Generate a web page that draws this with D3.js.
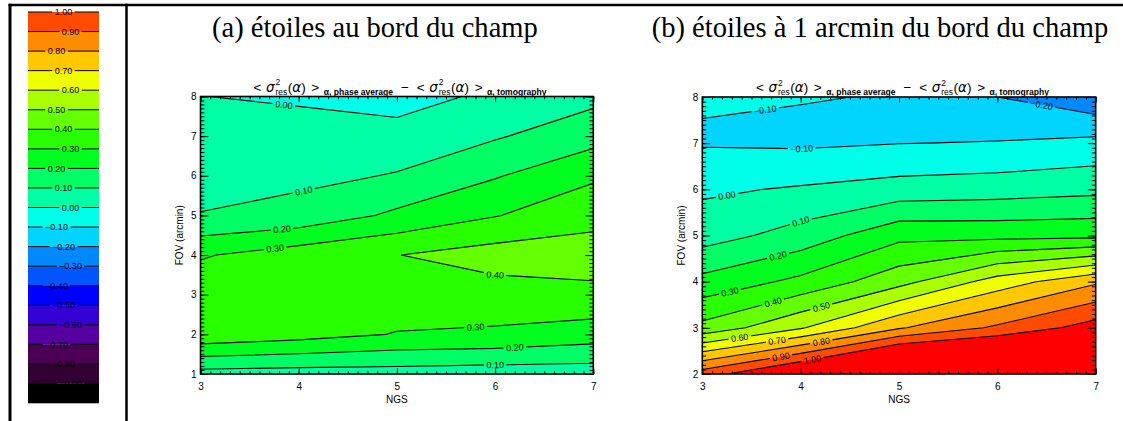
<!DOCTYPE html>
<html><head><meta charset="utf-8">
<script src="https://cdn.jsdelivr.net/npm/d3@7/dist/d3.min.js"></script>
<style>html,body{margin:0;padding:0;background:#fff;} svg{display:block;}</style>
</head><body>
<svg id="chart" width="1123" height="421" xmlns="http://www.w3.org/2000/svg"></svg>
<script>
// ---------------- data ----------------
const ngs = [3, 4, 5, 6, 7];
const fovA = [1, 2, 3, 4, 5, 6, 7, 8];
const fovB = [2, 3, 4, 5, 6, 7, 8];
// rows: FOV ascending, columns: NGS 3..7
const valuesA = [
  [0.062, 0.054, 0.055, 0.045, 0.045],
  [0.375, 0.340, 0.295, 0.285, 0.249],
  [0.370, 0.370, 0.360, 0.356, 0.380],
  [0.290, 0.353, 0.398, 0.444, 0.437],
  [0.103, 0.131, 0.220, 0.295, 0.374],
  [0.070, 0.079, 0.105, 0.192, 0.283],
  [0.035, 0.030, 0.055, 0.090, 0.163],
  [0.001, -0.010, -0.062, 0.032, 0.073]
];
const valuesB = [
  [0.950, 1.150, 1.390, 1.400, 1.300],
  [0.430, 0.590, 0.790, 0.918, 1.046],
  [0.230, 0.325, 0.465, 0.645, 0.785],
  [0.056, 0.140, 0.272, 0.270, 0.274],
  [-0.016, 0.010, 0.040, 0.053, 0.074],
  [-0.108, -0.115, -0.102, -0.095, -0.071],
  [-0.093, -0.097, -0.103, -0.200, -0.278]
];
const levels = [-1.0, -0.9, -0.8, -0.7, -0.6, -0.5, -0.4, -0.3, -0.2, -0.1, 0.0,
                 0.1, 0.2, 0.3, 0.4, 0.5, 0.6, 0.7, 0.8, 0.9, 1.0];
const bandColors = ["#000000", "#330033", "#4b0055", "#5500a0", "#3500d5", "#0000ff",
  "#0055ff", "#0088ff", "#00d4ff", "#00ffe8", "#00ffa5", "#00ff64", "#00ff1e",
  "#28ff00", "#64ff00", "#aaff00", "#f0ff00", "#ffc800", "#ff8c00", "#ff4b00", "#ff0000"];
const xTicks = [3, 4, 5, 6, 7];
const yTicksA = [1, 2, 3, 4, 5, 6, 7, 8];
const yTicksB = [2, 3, 4, 5, 6, 7, 8];
// contour labels: [level, NGS position, approximate FOV]
const labelsA = [[0.00, 3.85, 7.79], [0.10, 4.05, 5.64], [0.20, 3.83, 4.73], [0.30, 3.76, 4.17],
  [0.40, 6.0, 3.62], [0.30, 5.8, 2.18], [0.20, 6.2, 1.69], [0.10, 6.0, 1.23]];
const labelsB = [[-0.10, 3.64, 7.76], [-0.20, 6.45, 7.85], [-0.10, 4.01, 6.98], [0.00, 3.25, 5.86],
  [0.10, 4.0, 5.3], [0.20, 3.77, 4.63], [0.30, 3.28, 3.53], [0.40, 3.72, 3.29], [0.50, 4.21, 3.2],
  [0.60, 3.38, 2.77], [0.70, 3.76, 2.72], [0.80, 4.21, 2.66], [0.90, 3.80, 2.36], [1.00, 4.12, 2.32]];
const titleA = "(a) étoiles au bord du champ";
const titleB = "(b) étoiles à 1 arcmin du bord du champ";
const xLabel = "NGS";
const yLabel = "FOV (arcmin)";

// ---------------- drawing ----------------
const W = 1123, H = 421;
const FF = "'Liberation Sans', Arial, Helvetica, sans-serif";
const svg = d3.select("#chart");
const defs = svg.append("defs");

const bandColor = t => bandColors[Math.round(t * 10) + 10];
const fmtLevel = v => (v < -1e-9 ? "\u2212" : "") + Math.abs(v).toFixed(2);

// table borders
svg.append("line").attr("x1", 8.5).attr("x2", W).attr("y1", 5).attr("y2", 5).attr("stroke", "#000").attr("stroke-width", 2.5);
svg.append("line").attr("x1", 10).attr("x2", 10).attr("y1", 3.8).attr("y2", H).attr("stroke", "#000").attr("stroke-width", 3);
svg.append("line").attr("x1", 126.5).attr("x2", 126.5).attr("y1", 3.8).attr("y2", H).attr("stroke", "#000").attr("stroke-width", 2.5);

// top titles
function bigTitle(txt, cx, size) {
  return svg.append("text").attr("x", cx).attr("y", 36.5).attr("text-anchor", "middle")
    .attr("font-family", "'Liberation Serif', 'Times New Roman', serif").attr("font-size", size).text(txt);
}
const tA = bigTitle(titleA, 374.9, 28.5);
const fitSize = 28.5 * 326 / tA.node().getComputedTextLength();
tA.attr("font-size", fitSize);
bigTitle(titleB, 880, fitSize);

// colour bar
const barScale = d3.scaleLinear().domain([levels[0], levels[levels.length - 1]]).range([403, 12]);
const barX0 = 28, barX1 = 99, barC = (barX0 + barX1) / 2;
const bar = svg.append("g");
for (let i = 0; i < levels.length - 1; i++) {
  bar.append("rect").attr("x", barX0).attr("width", barX1 - barX0)
    .attr("y", barScale(levels[i + 1])).attr("height", barScale(levels[i]) - barScale(levels[i + 1]) + 0.3)
    .attr("fill", bandColors[i]);
}
const barLevels = levels.slice(1).reverse();
barLevels.forEach((v, k) => {
  const cx = barC + [0, 7, -7][k % 3];
  const yy = barScale(v);
  const t = bar.append("text").attr("x", cx).attr("y", yy).attr("dy", "0.35em").attr("text-anchor", "middle")
    .attr("font-family", FF).attr("font-size", 9).text(fmtLevel(v));
  const w = t.node().getComputedTextLength();
  bar.append("line").attr("x1", barX0).attr("x2", cx - w / 2 - 2.5).attr("y1", yy).attr("y2", yy).attr("stroke", "#000").attr("stroke-width", 1);
  bar.append("line").attr("x1", cx + w / 2 + 2.5).attr("x2", barX1).attr("y1", yy).attr("y2", yy).attr("stroke", "#000").attr("stroke-width", 1);
});

// plot title with sigma notation
function sigmaTitle(cx, base, targetW) {
  const g = svg.append("g");
  let xpos = 0;
  function put(t, size, dy, opts = {}) {
    const el = g.append("text").attr("x", xpos).attr("y", dy).attr("font-size", size)
      .attr("font-family", opts.ff || FF).text(t);
    if (opts.it) el.attr("font-style", "italic");
    if (opts.b) el.attr("font-weight", "bold");
    return el.node().getComputedTextLength();
  }
  const GR = "'DejaVu Sans', sans-serif";
  function half(sub) {
    xpos += put("<", 12, 0); xpos += 4;
    xpos += put("\u03c3", 12, 0, { it: true, ff: GR }); xpos += 0.8;
    const w1 = put("2", 7.5, -5.5), w2 = put("res", 7.5, 2.8);
    xpos += Math.max(w1, w2) + 0.5;
    xpos += put("(", 12, 0); xpos += put("\u03b1", 12, 0, { it: true, ff: GR }); xpos += put(")", 12, 0); xpos += 5;
    xpos += put(">", 12, 0); xpos += 4;
    xpos += put(sub, 7.6, 2.8, { b: true });
  }
  half("\u03b1, phase average"); xpos += 7; xpos += put("\u2212", 12, 0); xpos += 7; half("\u03b1, tomography");
  const k = targetW / xpos;
  g.attr("transform", `translate(${cx - xpos * k / 2},${base}) scale(${k})`);
}

function panel(cfg) {
  const { id, values, fov, yTicks, labels, x0, x1, y0, y1, yLabelX } = cfg;
  const nx = ngs.length, ny = fov.length;
  const x = d3.scaleLinear().domain([ngs[0], ngs[nx - 1]]).range([x0, x1]);
  const y = d3.scaleLinear().domain([fov[0], fov[ny - 1]]).range([y1, y0]);
  const stepX = ngs[1] - ngs[0], stepY = fov[1] - fov[0];
  const px = c => x(ngs[0] + (c - 0.5) * stepX);
  const py = c => y(fov[0] + (c - 0.5) * stepY);
  const flat = values.flat();
  const conts = d3.contours().size([nx, ny]).thresholds(levels)(flat);
  const pathOf = geom => geom.coordinates.map(poly => poly.map(ring =>
    "M" + ring.map(p => px(p[0]).toFixed(2) + "," + py(p[1]).toFixed(2)).join("L") + "Z").join("")).join("");

  const clipId = "clip" + id, maskId = "mask" + id;
  defs.append("clipPath").attr("id", clipId).append("rect")
    .attr("x", x0).attr("y", y0).attr("width", x1 - x0).attr("height", y1 - y0);
  const mask = defs.append("mask").attr("id", maskId).attr("maskUnits", "userSpaceOnUse")
    .attr("x", 0).attr("y", 0).attr("width", W).attr("height", H);
  mask.append("rect").attr("x", 0).attr("y", 0).attr("width", W).attr("height", H).attr("fill", "#fff");

  const g = svg.append("g");
  const fills = g.append("g").attr("clip-path", `url(#${clipId})`);
  conts.forEach(c => {
    if (c.coordinates.length) fills.append("path").attr("d", pathOf(c)).attr("fill", bandColor(c.value));
  });
  const [mn, mx] = d3.extent(flat);
  const lines = g.append("g").attr("clip-path", `url(#${clipId})`).append("g").attr("mask", `url(#${maskId})`);
  conts.filter(c => c.value > mn && c.value < mx).forEach(c => {
    lines.append("path").attr("d", pathOf(c)).attr("fill", "none").attr("stroke", "#000").attr("stroke-width", 1.1);
  });

  // contour labels
  const labG = g.append("g");
  labels.forEach(([lev, nv, fh]) => {
    const cont = conts.find(c => Math.abs(c.value - lev) < 1e-6);
    if (!cont) return;
    const X = x(nv), Yh = y(fh);
    let best = null;
    cont.coordinates.forEach(poly => poly.forEach(ring => {
      for (let i = 0; i < ring.length - 1; i++) {
        const ax = px(ring[i][0]), ay = py(ring[i][1]), bx = px(ring[i + 1][0]), by = py(ring[i + 1][1]);
        if (ax === bx || (ax - X) * (bx - X) > 0) continue;
        const t = (X - ax) / (bx - ax), Y = ay + t * (by - ay);
        if (Y < y0 || Y > y1) continue;
        const d = Math.abs(Y - Yh);
        if (!best || d < best.d) best = { d, Y, ang: Math.atan2(by - ay, bx - ax) * 180 / Math.PI };
      }
    }));
    if (!best) return;
    let ang = best.ang;
    if (ang > 90) ang -= 180;
    if (ang < -90) ang += 180;
    const tr = `translate(${X},${best.Y}) rotate(${ang})`;
    const t = labG.append("text").attr("transform", tr).attr("text-anchor", "middle").attr("dy", "0.36em")
      .attr("font-family", FF).attr("font-size", 9).text(fmtLevel(lev));
    const w = t.node().getComputedTextLength();
    mask.append("rect").attr("transform", tr).attr("x", -w / 2 - 2.5).attr("y", -4.5)
      .attr("width", w + 5).attr("height", 9).attr("fill", "#000");
  });

  // axes
  const minorX = d3.range(Math.round(ngs[0] * 10), Math.round(ngs[nx - 1] * 10) + 1).map(v => v / 10);
  const minorY = d3.range(Math.round(fov[0] * 10), Math.round(fov[ny - 1] * 10) + 1).map(v => v / 10);
  const ax = g.append("g").attr("font-family", FF);
  const noDomain = s => s.select(".domain").remove();
  const styleTicks = s => { s.attr("font-family", FF).attr("font-size", 10); s.selectAll("line").attr("stroke-width", 1); };
  // bottom
  ax.append("g").attr("transform", `translate(0,${y1})`)
    .call(d3.axisBottom(x).tickValues(minorX).tickSize(-2.8).tickSizeOuter(0).tickFormat(""))
    .call(noDomain).call(styleTicks);
  ax.append("g").attr("transform", `translate(0,${y1})`)
    .call(d3.axisBottom(x).tickValues(xTicks).tickSize(-5.6).tickSizeOuter(0).tickPadding(8.5).tickFormat(d3.format("d")))
    .call(noDomain).call(styleTicks);
  // top
  ax.append("g").attr("transform", `translate(0,${y0})`)
    .call(d3.axisTop(x).tickValues(minorX).tickSize(-2.8).tickSizeOuter(0).tickFormat(""))
    .call(noDomain).call(styleTicks);
  ax.append("g").attr("transform", `translate(0,${y0})`)
    .call(d3.axisTop(x).tickValues(xTicks).tickSize(-5.6).tickSizeOuter(0).tickFormat(""))
    .call(noDomain).call(styleTicks);
  // left
  ax.append("g").attr("transform", `translate(${x0},0)`)
    .call(d3.axisLeft(y).tickValues(minorY).tickSize(-3.9).tickSizeOuter(0).tickFormat(""))
    .call(noDomain).call(styleTicks);
  ax.append("g").attr("transform", `translate(${x0},0)`)
    .call(d3.axisLeft(y).tickValues(yTicks).tickSize(-7.9).tickSizeOuter(0).tickPadding(4).tickFormat(d3.format("d")))
    .call(noDomain).call(styleTicks);
  // right
  ax.append("g").attr("transform", `translate(${x1},0)`)
    .call(d3.axisRight(y).tickValues(minorY).tickSize(-3.9).tickSizeOuter(0).tickFormat(""))
    .call(noDomain).call(styleTicks);
  ax.append("g").attr("transform", `translate(${x1},0)`)
    .call(d3.axisRight(y).tickValues(yTicks).tickSize(-7.9).tickSizeOuter(0).tickFormat(""))
    .call(noDomain).call(styleTicks);
  // frame
  g.append("rect").attr("x", x0).attr("y", y0).attr("width", x1 - x0).attr("height", y1 - y0)
    .attr("fill", "none").attr("stroke", "#000").attr("stroke-width", 1.6);
  // axis titles
  g.append("text").attr("x", (x0 + x1) / 2).attr("y", 403).attr("text-anchor", "middle")
    .attr("font-family", FF).attr("font-size", 10).text(xLabel);
  g.append("text").attr("transform", `translate(${x0 - 17.5},${(y0 + y1) / 2}) rotate(-90)`).attr("text-anchor", "middle")
    .attr("font-family", FF).attr("font-size", 10).text(yLabel);
  // plot title
  sigmaTitle(cfg.titleCx, cfg.titleBase, 293);
}

panel({ id: "A", values: valuesA, fov: fovA, yTicks: yTicksA, labels: labelsA,
  x0: 200.5, x1: 593.3, y0: 96.5, y1: 374, titleCx: 400, titleBase: 91.5 });
panel({ id: "B", values: valuesB, fov: fovB, yTicks: yTicksB, labels: labelsB,
  x0: 702.3, x1: 1095.7, y0: 97, y1: 374, titleCx: 902.5, titleBase: 91.8 });
</script>
</body></html>
